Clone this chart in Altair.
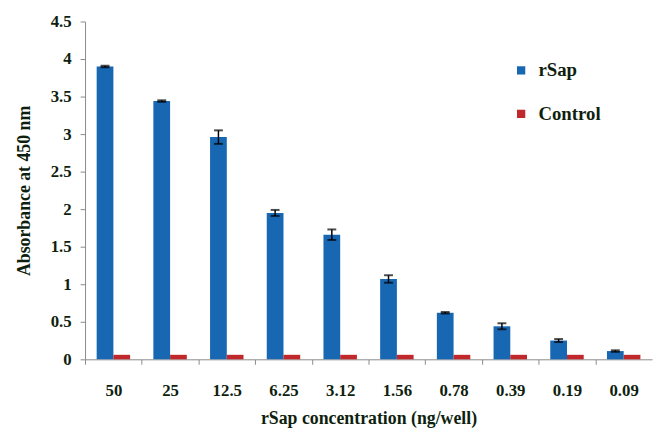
import altair as alt
import pandas as pd

categories = ["50", "25", "12.5", "6.25", "3.12", "1.56", "0.78", "0.39", "0.19", "0.09"]
rsap_values = [3.90, 3.44, 2.96, 1.95, 1.66, 1.07, 0.62, 0.44, 0.25, 0.11]
rsap_errors = [0.01, 0.01, 0.09, 0.04, 0.07, 0.05, 0.01, 0.04, 0.02, 0.01]
control_values = [0.06, 0.06, 0.06, 0.06, 0.06, 0.06, 0.06, 0.06, 0.06, 0.06]
y_ticks = [0, 0.5, 1, 1.5, 2, 2.5, 3, 3.5, 4, 4.5]
series = ["rSap", "Control"]
colors = ["#1767b3", "#c0282b"]

rows = []
for c, v in zip(categories, rsap_values):
    rows.append({"conc": c, "series": "rSap", "value": v})
for c, v in zip(categories, control_values):
    rows.append({"conc": c, "series": "Control", "value": v})
bars_df = pd.DataFrame(rows)

err_df = pd.DataFrame({
    "conc": categories,
    "series": ["rSap"] * len(categories),
    "lo": [v - e for v, e in zip(rsap_values, rsap_errors)],
    "hi": [v + e for v, e in zip(rsap_values, rsap_errors)],
})

FONT = "Liberation Serif"
TXT = "#0f1f0f"
step = 574 / 10

x_axis = alt.Axis(
    title="rSap concentration (ng/well)",
    labelAngle=0,
    tickOffset=-step / 2,
    labelOffset=step / 2,
    tickSize=5,
    labelPadding=19,
    titlePadding=11,
    domainColor="#8a8a8a",
    tickColor="#8a8a8a",
)
y_axis = alt.Axis(
    title="Absorbance at 450 nm",
    values=y_ticks,
    format=".1~f",
    labelOverlap=False,
    grid=False,
    tickSize=5,
    labelPadding=9,
    titlePadding=17,
    domainColor="#8a8a8a",
    tickColor="#8a8a8a",
)

x_scale = alt.Scale(paddingInner=0.41, paddingOuter=0.205)
y_scale = alt.Scale(domain=[0, 4.5], nice=False, zero=True)
x_enc = alt.X("conc:N", sort=categories, scale=x_scale, axis=x_axis)
xo_enc = alt.XOffset("series:N", scale=alt.Scale(domain=series, paddingInner=0, paddingOuter=0))

bars = alt.Chart(bars_df).mark_bar().encode(
    x=x_enc,
    xOffset=xo_enc,
    y=alt.Y("value:Q", scale=y_scale, axis=y_axis),
    color=alt.Color(
        "series:N",
        scale=alt.Scale(domain=series, range=colors),
        legend=alt.Legend(
            title=None,
            orient="none",
            legendX=432,
            legendY=40,
            symbolType="square",
            symbolSize=70,
            symbolStrokeWidth=0,
            labelFontSize=19,
            labelFont=FONT,
            labelFontWeight="bold",
            labelColor=TXT,
            rowPadding=24,
            labelOffset=8,
        ),
    ),
)

rules = alt.Chart(err_df).mark_rule(color="black", strokeWidth=1.5).encode(
    x=x_enc,
    xOffset=xo_enc,
    y=alt.Y("lo:Q", scale=y_scale, axis=y_axis),
    y2="hi:Q",
)
cap_lo = alt.Chart(err_df).mark_tick(color="black", orient="horizontal", size=9, thickness=2).encode(
    x=x_enc,
    xOffset=xo_enc,
    y=alt.Y("lo:Q", scale=y_scale, axis=y_axis),
)
cap_hi = alt.Chart(err_df).mark_tick(color="black", orient="horizontal", size=9, thickness=2).encode(
    x=x_enc,
    xOffset=xo_enc,
    y=alt.Y("hi:Q", scale=y_scale, axis=y_axis),
)

chart = alt.layer(bars, rules, cap_lo, cap_hi).properties(
    width=574,
    height=342,
    autosize=alt.AutoSizeParams(type="none"),
    padding={"left": 78, "top": 11, "right": 2, "bottom": 78},
).configure_view(stroke=None).configure_axis(
    labelFont=FONT,
    labelFontWeight="bold",
    labelFontSize=17,
    labelColor=TXT,
    titleFont=FONT,
    titleFontWeight="bold",
    titleFontSize=18,
    titleColor=TXT,
)

chart.save("out.html", embed_options={"renderer": "svg", "actions": False})
